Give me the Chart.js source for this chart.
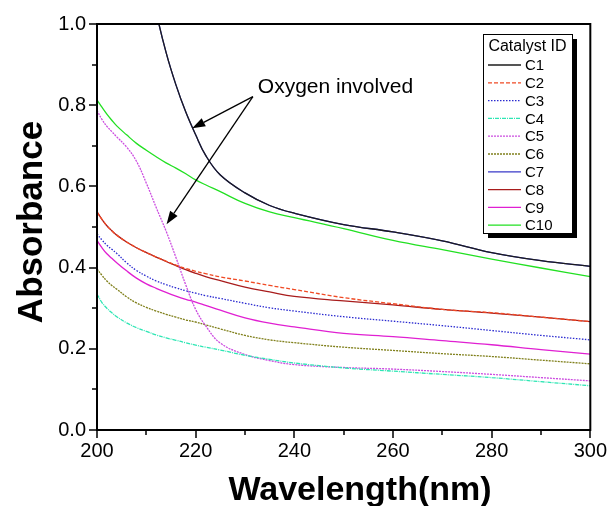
<!DOCTYPE html>
<html>
<head>
<meta charset="utf-8">
<script src="https://cdn.jsdelivr.net/npm/chart.js@4.4.1/dist/chart.umd.min.js"></script>
<style>
  body { margin: 0; background: #fff; }
  #wrap { width: 616px; height: 506px; }
</style>
</head>
<body>
<div id="wrap"><canvas id="uvChart" width="616" height="506"></canvas></div>
<script>
// wavelength (nm) sample points
var wavelengths = [200, 201, 202, 203, 204, 206, 208, 210, 212, 214, 216, 218, 220, 222, 225, 230, 235, 240, 250, 260, 270, 280, 290, 300];

// absorbance, one array per catalyst
var c1  = [2.20, 2.05, 1.90, 1.77, 1.65, 1.45, 1.30, 1.16, 1.03, 0.93, 0.85, 0.783, 0.727, 0.677, 0.628, 0.584, 0.553, 0.534, 0.506, 0.488, 0.466, 0.437, 0.417, 0.403];
var c2  = [0.537, 0.519, 0.503, 0.491, 0.480, 0.463, 0.449, 0.437, 0.426, 0.416, 0.406, 0.398, 0.391, 0.385, 0.377, 0.367, 0.356, 0.346, 0.326, 0.311, 0.297, 0.289, 0.278, 0.267];
var c3  = [0.483, 0.468, 0.455, 0.445, 0.435, 0.412, 0.393, 0.379, 0.367, 0.358, 0.350, 0.343, 0.337, 0.331, 0.324, 0.312, 0.301, 0.293, 0.279, 0.268, 0.257, 0.245, 0.233, 0.222];
var c4  = [0.335, 0.314, 0.300, 0.289, 0.279, 0.264, 0.252, 0.243, 0.234, 0.227, 0.221, 0.215, 0.209, 0.204, 0.197, 0.184, 0.174, 0.165, 0.153, 0.145, 0.137, 0.129, 0.119, 0.109];
var c5  = [0.787, 0.765, 0.748, 0.735, 0.722, 0.697, 0.662, 0.608, 0.548, 0.490, 0.425, 0.357, 0.297, 0.257, 0.214, 0.186, 0.171, 0.161, 0.154, 0.150, 0.144, 0.137, 0.129, 0.121];
var c6  = [0.397, 0.381, 0.367, 0.356, 0.347, 0.328, 0.313, 0.302, 0.293, 0.285, 0.278, 0.271, 0.266, 0.259, 0.249, 0.233, 0.222, 0.215, 0.204, 0.196, 0.188, 0.181, 0.172, 0.163];
var c7  = [2.20, 2.05, 1.90, 1.77, 1.65, 1.45, 1.30, 1.16, 1.03, 0.93, 0.85, 0.783, 0.727, 0.677, 0.628, 0.584, 0.553, 0.534, 0.506, 0.488, 0.466, 0.437, 0.417, 0.403];
var c8  = [0.537, 0.519, 0.503, 0.491, 0.480, 0.463, 0.449, 0.437, 0.426, 0.415, 0.405, 0.395, 0.386, 0.378, 0.368, 0.352, 0.340, 0.329, 0.318, 0.308, 0.297, 0.288, 0.278, 0.267];
var c9  = [0.467, 0.449, 0.434, 0.423, 0.412, 0.392, 0.374, 0.360, 0.349, 0.339, 0.330, 0.322, 0.315, 0.307, 0.295, 0.276, 0.263, 0.254, 0.238, 0.230, 0.220, 0.210, 0.198, 0.187];
var c10 = [0.813, 0.795, 0.778, 0.763, 0.749, 0.727, 0.706, 0.689, 0.673, 0.658, 0.645, 0.631, 0.616, 0.604, 0.587, 0.558, 0.537, 0.523, 0.496, 0.467, 0.444, 0.421, 0.399, 0.378];

var xTickLabels = [200, 220, 240, 260, 280, 300];
var yTickLabels = [0.0, 0.2, 0.4, 0.6, 0.8, 1.0];

var series = [
    { label: 'C1',  values: c1,  color: '#1c1c1c', dash: [] },
    { label: 'C2',  values: c2,  color: '#f04a24', dash: [4, 2] },
    { label: 'C3',  values: c3,  color: '#2a2ad0', dash: [1.5, 1.5] },
    { label: 'C4',  values: c4,  color: '#2ee6b4', dash: [4, 1, 1, 1] },
    { label: 'C5',  values: c5,  color: '#cc4de0', dash: [2, 1] },
    { label: 'C6',  values: c6,  color: '#80801c', dash: [2, 1] },
    { label: 'C7',  values: c7,  color: '#3838c8', dash: [] },
    { label: 'C8',  values: c8,  color: '#a81c1c', dash: [] },
    { label: 'C9',  values: c9,  color: '#e020d2', dash: [] },
    { label: 'C10', values: c10, color: '#22e022', dash: [] }
];

var FONT = "'Liberation Sans', Arial, sans-serif";
Chart.defaults.font.family = FONT;
Chart.defaults.color = '#000';

// frame round the plot + outward major/minor ticks
var frameTicks = {
    id: 'frameTicks',
    afterDatasetsDraw: function (chart) {
        var ctx = chart.ctx, a = chart.chartArea, x = chart.scales.x, y = chart.scales.y;
        ctx.save();
        ctx.strokeStyle = '#000';
        ctx.lineWidth = 2;
        ctx.strokeRect(a.left, a.top, a.right - a.left, a.bottom - a.top);
        ctx.lineWidth = 1.5;
        ctx.beginPath();
        for (var v = 200; v <= 300; v += 10) {
            var px = Math.round(x.getPixelForValue(v));
            ctx.moveTo(px, a.bottom);
            ctx.lineTo(px, a.bottom + (v % 20 === 0 ? 8 : 5));
        }
        for (var i = 0; i <= 10; i++) {
            var py = Math.round(y.getPixelForValue(i / 10));
            ctx.moveTo(a.left, py);
            ctx.lineTo(a.left - (i % 2 === 0 ? 8 : 5), py);
        }
        ctx.stroke();
        ctx.restore();
    }
};

function arrow(ctx, x0, y0, x1, y1) {
    var ang = Math.atan2(y1 - y0, x1 - x0), len = 13, half = 4.5;
    ctx.beginPath();
    ctx.moveTo(x0, y0);
    ctx.lineTo(x1 - Math.cos(ang) * len, y1 - Math.sin(ang) * len);
    ctx.stroke();
    ctx.beginPath();
    ctx.moveTo(x1, y1);
    ctx.lineTo(x1 - Math.cos(ang) * len - Math.sin(ang) * half, y1 - Math.sin(ang) * len + Math.cos(ang) * half);
    ctx.lineTo(x1 - Math.cos(ang) * len + Math.sin(ang) * half, y1 - Math.sin(ang) * len - Math.cos(ang) * half);
    ctx.closePath();
    ctx.fill();
}

// axis titles, "Oxygen involved" note and the boxed legend with shadow
var notes = {
    id: 'notes',
    afterDraw: function (chart) {
        var ctx = chart.ctx, x = chart.scales.x, y = chart.scales.y;
        ctx.save();
        ctx.fillStyle = '#000';
        ctx.strokeStyle = '#000';

        ctx.font = 'bold 34px ' + FONT;
        ctx.textAlign = 'center';
        ctx.textBaseline = 'alphabetic';
        ctx.fillText('Wavelength(nm)', 360, 500);
        ctx.save();
        ctx.translate(42, 222);
        ctx.rotate(-Math.PI / 2);
        ctx.font = 'bold 35px ' + FONT;
        ctx.fillText('Absorbance', 0, 0);
        ctx.restore();

        ctx.lineWidth = 1.3;
        ctx.font = '21px ' + FONT;
        ctx.textAlign = 'left';
        ctx.textBaseline = 'middle';
        ctx.fillText('Oxygen involved', x.getPixelForValue(232.6), y.getPixelForValue(0.845));
        var sx = x.getPixelForValue(231.6), sy = y.getPixelForValue(0.821);
        arrow(ctx, sx, sy, x.getPixelForValue(219.3), y.getPixelForValue(0.743));
        arrow(ctx, sx, sy, x.getPixelForValue(214.1), y.getPixelForValue(0.507));

        // legend
        var bx = 483, by = 34, bw = 89, bh = 199;
        ctx.fillRect(bx + 5, by + 5, bw, bh);
        ctx.fillStyle = '#fff';
        ctx.fillRect(bx, by, bw, bh);
        ctx.lineWidth = 1;
        ctx.strokeRect(bx + 0.5, by + 0.5, bw, bh);
        ctx.fillStyle = '#000';
        ctx.font = '16px ' + FONT;
        ctx.textAlign = 'center';
        ctx.fillText('Catalyst ID', bx + bw / 2, by + 13);
        ctx.font = '15px ' + FONT;
        ctx.textAlign = 'left';
        chart.data.datasets.forEach(function (ds, k) {
            var ry = by + 31 + k * 17.8;
            ctx.strokeStyle = ds.borderColor;
            ctx.lineWidth = 1.3;
            ctx.setLineDash(ds.borderDash);
            ctx.beginPath();
            ctx.moveTo(bx + 5, ry);
            ctx.lineTo(bx + 38, ry);
            ctx.stroke();
            ctx.setLineDash([]);
            ctx.fillText(ds.label, bx + 42, ry + 1);
        });
        ctx.restore();
    }
};

var ctxUV = document.getElementById('uvChart').getContext('2d');
var uvChart = new Chart(ctxUV, {
    type: 'line',
    data: {
        datasets: series.map(function (s) {
            return {
                label: s.label,
                data: wavelengths.map(function (w, i) { return { x: w, y: s.values[i] }; }),
                borderColor: s.color,
                borderDash: s.dash,
                borderWidth: 1.3,
                pointRadius: 0,
                fill: false,
                tension: 0.4
            };
        })
    },
    options: {
        responsive: false,
        animation: false,
        layout: { padding: { top: 24, right: 19, left: 0, bottom: 0 } },
        plugins: { legend: { display: false }, tooltip: { enabled: false } },
        scales: {
            x: {
                type: 'linear',
                min: 200,
                max: 300,
                afterFit: function (s) { s.height = 76; },
                afterBuildTicks: function (s) { s.ticks = xTickLabels.map(function (v) { return { value: v }; }); },
                grid: { display: false, drawTicks: false },
                border: { display: false },
                ticks: { font: { size: 20 }, padding: 9, maxRotation: 0 }
            },
            y: {
                min: 0,
                max: 1,
                afterFit: function (s) { s.width = 97; },
                afterBuildTicks: function (s) { s.ticks = yTickLabels.map(function (v) { return { value: v }; }); },
                grid: { display: false, drawTicks: false },
                border: { display: false },
                ticks: { font: { size: 20 }, padding: 11, callback: function (v) { return v.toFixed(1); } }
            }
        }
    },
    plugins: [frameTicks, notes]
});
</script>
</body>
</html>
